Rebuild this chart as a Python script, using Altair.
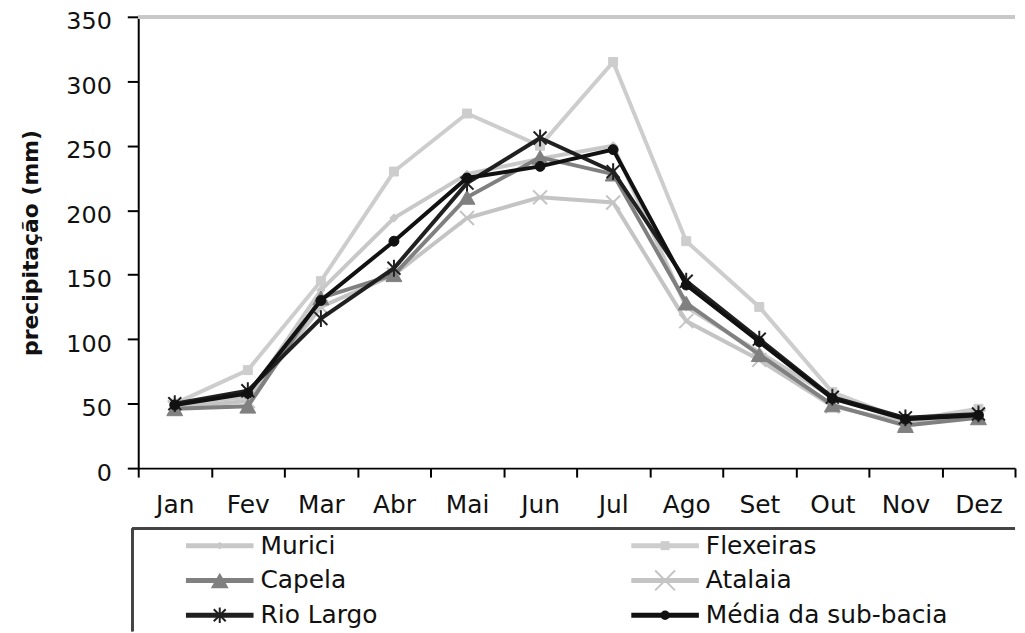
import altair as alt
import pandas as pd

FONT = "DejaVu Sans"

months = ["Jan", "Fev", "Mar", "Abr", "Mai", "Jun", "Jul", "Ago", "Set", "Out", "Nov", "Dez"]
stations = ["Murici", "Flexeiras", "Capela", "Atalaia", "Rio Largo", "Média da sub-bacia"]

murici = [50, 55, 138, 194, 228, 240, 250, 125, 90, 55, 37, 42]
flexeiras = [50, 76, 145, 230, 275, 250, 315, 176, 125, 59, 37, 46]
capela = [46, 48, 132, 150, 210, 241, 228, 128, 88, 49, 33, 39]
atalaia = [47, 52, 125, 150, 194, 210, 206, 114, 84, 48, 35, 40]
rio_largo = [50, 60, 116, 155, 221, 256, 230, 145, 100, 55, 39, 42]
media = [49, 58, 130, 176, 225, 234, 247, 142, 98, 54, 38, 41]

series = [murici, flexeiras, capela, atalaia, rio_largo, media]

X_PATH = "M-1,-1L1,1M-1,1L1,-1"
AST_PATH = "M-1,-1L1,1M-1,1L1,-1M0,-1.3L0,1.3"

colors = ["#c8c8c8", "#cdcdcd", "#808080", "#c4c4c4", "#202020", "#111111"]
shapes = ["diamond", "square", "triangle-up", X_PATH, AST_PATH, "circle"]
plot_sizes = [70, 81, 256, 196, 169, 100]
legend_sizes = [60, 81, 324, 400, 144, 90]
marker_stroke = [1, 1, 1, 2, 2, 1]
draw_order = ["Flexeiras", "Murici", "Atalaia", "Capela", "Rio Largo", "Média da sub-bacia"]

legend_col = [0, 1, 0, 1, 0, 1]
legend_row = [0, 0, 1, 1, 2, 2]

rows = []
for s, vals in zip(stations, series):
    for m, v in zip(months, vals):
        rows.append({"station": s, "month": m, "value": v})
df = pd.DataFrame(rows)

color_scale = alt.Scale(domain=stations, range=colors)
shape_scale = alt.Scale(domain=stations, range=shapes)

W = 882

x_enc = alt.X(
    "month:N",
    sort=months,
    bandPosition=0.5,
    scale=alt.Scale(type="band", paddingInner=0, paddingOuter=0),
    axis=alt.Axis(
        title=None, labelAngle=0, tickBand="extent", grid=False,
        labelFont=FONT, labelFontSize=25, labelColor="#111111", labelPadding=16,
        tickSize=9, tickWidth=2, tickColor="#000000",
        domainColor="#000000", domainWidth=2,
    ),
)
y_enc = alt.Y(
    "value:Q",
    scale=alt.Scale(domain=[0, 350], nice=False),
    axis=alt.Axis(
        values=list(range(0, 351, 50)), grid=False,
        title="precipitação (mm)", titleFont=FONT, titleFontSize=22,
        titleFontWeight="bold", titleColor="#111111", titlePadding=24,
        labelFont=FONT, labelFontSize=24, labelColor="#111111",
        labelPadding=16, labelOffset=5,
        tickSize=11, tickWidth=2, tickColor="#000000",
        domainColor="#000000", domainWidth=2,
    ),
)

base = alt.Chart(df)
top_rule = base.mark_rule(color="#c8c8c8", strokeWidth=3).encode(y=alt.datum(350))
layers = [top_rule]
for s in draw_order:
    i = stations.index(s)
    sub = base.transform_filter(alt.datum.station == s)
    layers.append(
        sub.mark_line(strokeWidth=4, color=colors[i]).encode(x=x_enc, y=y_enc)
    )
    layers.append(
        sub.mark_point(
            opacity=1, fill=colors[i] if i not in (3, 4) else None,
            filled=i not in (3, 4),
            stroke=colors[i], strokeWidth=marker_stroke[i],
            shape=shapes[i], size=plot_sizes[i],
        ).encode(x=x_enc, y=y_enc)
    )

main = alt.layer(*layers).properties(width=W, height=454)

leg_df = pd.DataFrame({
    "station": stations,
    "col": legend_col,
    "row": legend_row,
    "lsize": legend_sizes,
})
lx = alt.X("col:Q", scale=alt.Scale(domain=[0, 1], range=[48, 496]), axis=None)
ly = alt.Y("row:Q", scale=alt.Scale(domain=[0, 2], range=[17, 87]), axis=None)
lbase = alt.Chart(leg_df)

leg_lines = lbase.mark_rule(strokeWidth=5, x2Offset=68).encode(
    x=lx, x2=alt.X2("col:Q"), y=ly,
    color=alt.Color("station:N", scale=color_scale, legend=None),
)
leg_filled = lbase.transform_filter(
    "datum.station != 'Atalaia' && datum.station != 'Rio Largo'"
).mark_point(filled=True, opacity=1, xOffset=34).encode(
    x=lx, y=ly,
    color=alt.Color("station:N", scale=color_scale, legend=None),
    shape=alt.Shape("station:N", scale=shape_scale, legend=None),
    size=alt.Size("lsize:Q", scale=None, legend=None),
)
leg_stroked = lbase.transform_filter(
    "datum.station == 'Atalaia' || datum.station == 'Rio Largo'"
).mark_point(filled=False, opacity=1, strokeWidth=2, xOffset=34).encode(
    x=lx, y=ly,
    color=alt.Color("station:N", scale=color_scale, legend=None),
    shape=alt.Shape("station:N", scale=shape_scale, legend=None),
    size=alt.Size("lsize:Q", scale=None, legend=None),
)
leg_text = lbase.mark_text(
    align="left", baseline="middle", dx=75, font=FONT, fontSize=25, color="#111111"
).encode(x=lx, y=ly, text="station:N")

box_top = lbase.mark_rule(color="#444444", strokeWidth=2.5).encode(
    x=alt.value(-6), x2=alt.value(W), y=alt.value(0)
)
box_left = lbase.mark_rule(color="#444444", strokeWidth=2.5).encode(
    x=alt.value(-6), y=alt.value(0), y2=alt.value(103)
)

legend_panel = alt.layer(
    box_top, box_left, leg_lines, leg_filled, leg_stroked, leg_text
).properties(width=W, height=103)

chart = alt.vconcat(main, legend_panel, spacing=61, bounds="flush").properties(
    padding={"left": 11, "top": 0, "right": 0, "bottom": 0}
).configure_view(stroke=None).resolve_scale(
    color="independent", shape="independent", size="independent"
)

chart.save("out.html", embed_options={"renderer": "svg", "actions": False})
